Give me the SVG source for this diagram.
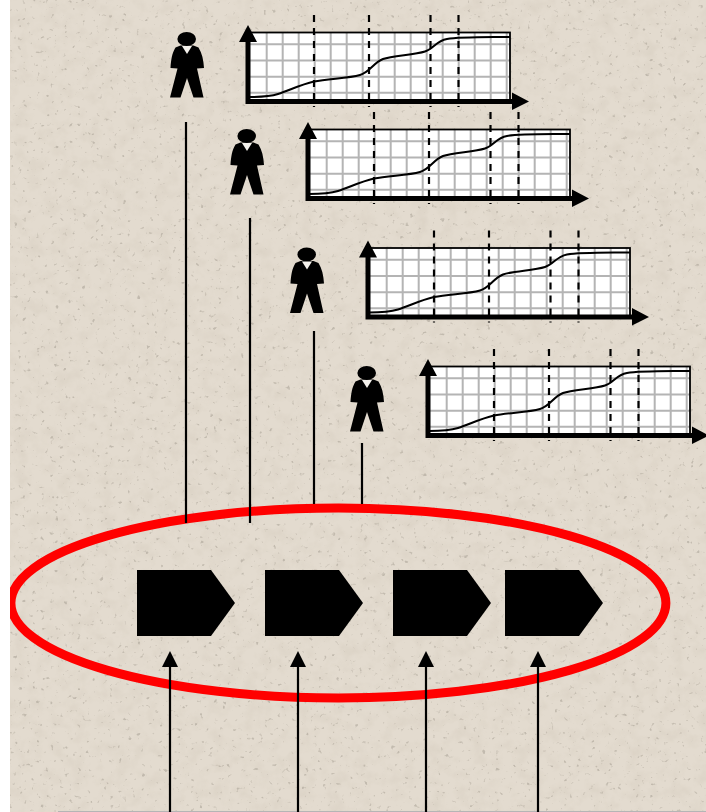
<svg xmlns="http://www.w3.org/2000/svg" width="706" height="812" viewBox="0 0 706 812">
<style>
.grid{stroke:#b4b4b4;stroke-width:2;fill:none}
.box{fill:#fff;stroke:none}
.frame{fill:none;stroke:#000;stroke-width:1.8}
.axis{stroke:#000;stroke-width:5;fill:none}
.curve{stroke:#000;stroke-width:2;fill:none}
.dash{stroke:#000;stroke-width:2.2;stroke-dasharray:7 6;fill:none}
.lane{stroke:#000;stroke-width:2.2;fill:none}
.step{fill:#000}
</style>
<defs>
<clipPath id="panel"><rect x="10" y="0" width="696" height="812"/></clipPath>
<filter id="mottle" x="0" y="0" width="100%" height="100%">
<feTurbulence type="fractalNoise" baseFrequency="0.07" numOctaves="3" seed="11"/>
<feColorMatrix type="matrix" values="0 0 0 0 0.55  0 0 0 0 0.49  0 0 0 0 0.40  1.6 0 0 0 -0.68"/>
</filter>
<filter id="speck" x="0" y="0" width="100%" height="100%">
<feTurbulence type="fractalNoise" baseFrequency="0.22" numOctaves="2" seed="5"/>
<feColorMatrix type="matrix" values="0 0 0 0 0.42  0 0 0 0 0.38  0 0 0 0 0.32  7 0 0 0 -4.75"/>
<feGaussianBlur stdDeviation="0.7"/>
</filter>
<g id="chart">
<rect class="box" x="248" y="32" width="262" height="69"/>
<path class="grid" d="M266.7 32V101M282.7 32V101M298.7 32V101M314.7 32V101M330.7 32V101M346.7 32V101M362.7 32V101M378.7 32V101M394.7 32V101M410.7 32V101M426.7 32V101M442.7 32V101M458.7 32V101M474.7 32V101M490.7 32V101M506.7 32V101M248 44.300H510M248 60.500H510M248 76.700H510M248 92.700H510"/>
<rect class="frame" x="248" y="32.500" width="262" height="68.500"/>
<path class="curve" d="M249 97C262 97 270 96.500 278 94C290 90 301 84.500 314 81.500C328 78.500 348 78.500 360 75C370 72 373 63 383 59C392 55.500 414 55 425 51.500C434 48.500 436 41 447 39C459 37 480 37.300 510 37"/>
<path class="dash" d="M314 15V107M369 15V107M430.500 15V107M458.500 15V107"/>
<path class="axis" d="M248 38V101.500M245.500 101.500H514"/>
<path d="M248 25L257 42H239Z M512 92.500L529 101.500L512 110Z" fill="#000"/>
</g>
<g id="man">
<ellipse cx="186.700" cy="39" rx="9.300" ry="7"/>
<path d="M180.500 45.500L175.500 47.500C172 53 171 60 170.500 68L177.500 68.500L170 97.500L180.500 97.500L187 78L193.500 97.500L203.500 97.500L197 68.500L204 68C203.500 60 202 53 198.500 47.500L193.500 45.500Z"/>
<path d="M182 46L192 46L187 54Z" fill="#f4f1ec"/>
</g>
</defs>
<rect x="0" y="0" width="706" height="812" fill="#fff"/>
<rect x="10" y="0" width="696" height="812" fill="#e3dbcf"/>
<rect x="10" y="0" width="696" height="812" filter="url(#mottle)" opacity="0.28"/>
<rect x="10" y="0" width="696" height="812" filter="url(#speck)" opacity="0.6"/>
<path d="M58 811.500H706" stroke="#b5b5b5" stroke-width="1" fill="none"/>
<g id="chart-1"><use href="#chart"/></g>
<g id="chart-2"><use href="#chart" x="60" y="97"/></g>
<g id="chart-3"><use href="#chart" x="120" y="215.500"/></g>
<g id="chart-4"><use href="#chart" x="180" y="334"/></g>
<g id="person-1"><use href="#man"/></g>
<g id="person-2"><use href="#man" x="60" y="97"/></g>
<g id="person-3"><use href="#man" x="120" y="215.500"/></g>
<g id="person-4"><use href="#man" x="180" y="334"/></g>
<g id="scope-ellipse" clip-path="url(#panel)"><ellipse cx="338.400" cy="603" rx="327.500" ry="95" fill="none" stroke="#ff0000" stroke-width="9"/></g>
<g id="step-1"><path class="step" d="M137 570H211L235 603L211 636H137Z"/></g>
<g id="step-2"><path class="step" d="M265 570H339L363 603L339 636H265Z"/></g>
<g id="step-3"><path class="step" d="M393 570H467L491 603L467 636H393Z"/></g>
<g id="step-4"><path class="step" d="M505 570H579L603 603L579 636H505Z"/></g>
<g id="connectors">
<path class="lane" d="M186 122V523M250 218V523M314 331V504M362 443V504"/>
<path class="lane" d="M170 665V812M298 665V812M426 665V812M538 665V812"/>
<path d="M170 651L178 667H162Z M298 651L306 667H290Z M426 651L434 667H418Z M538 651L546 667H530Z" fill="#000"/>
</g>
</svg>
